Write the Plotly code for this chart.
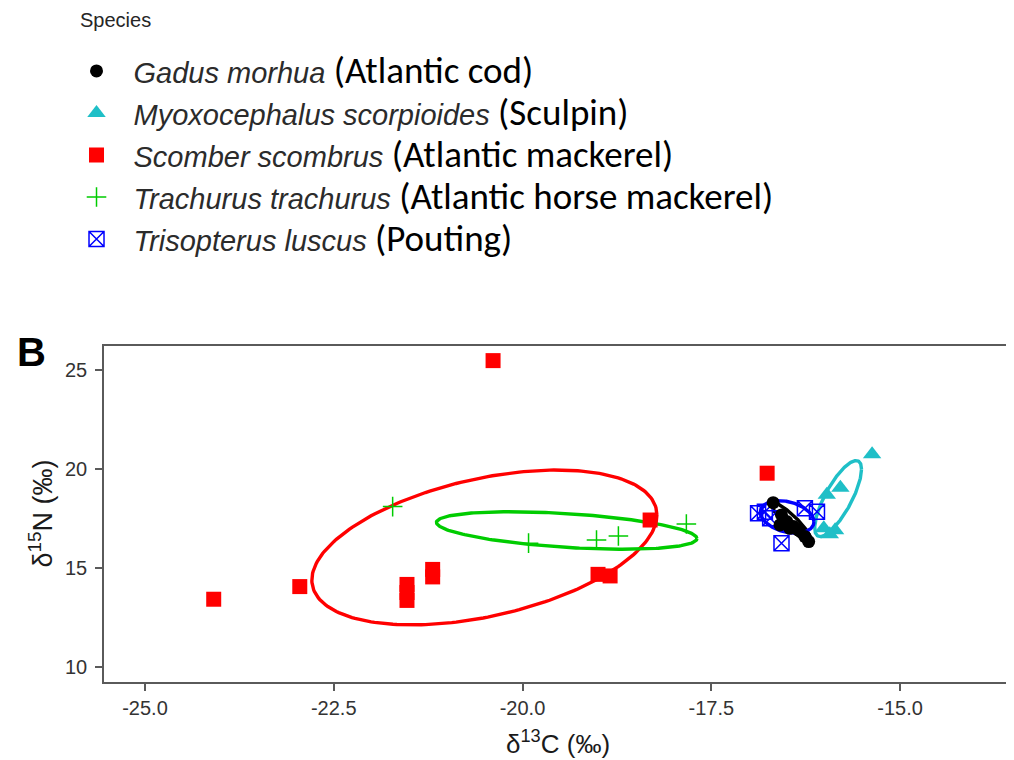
import numpy as np
import plotly.graph_objects as go

# ---------------- data ----------------
species = ["Gadus morhua", "Myoxocephalus scorpioides", "Scomber scombrus",
           "Trachurus trachurus", "Trisopterus luscus"]
common_names = ["(Atlantic cod)", "(Sculpin)", "(Atlantic mackerel)",
                "(Atlantic horse mackerel)", "(Pouting)"]

gadus_c13 = [-16.68, -16.57, -16.50, -16.59, -16.41, -16.35, -16.26, -16.21, -16.46]
gadus_n15 = [18.30, 17.68, 17.34, 17.17, 17.09, 16.92, 16.58, 16.33, 17.00]

myoxo_c13 = [-15.37, -15.79, -15.97, -15.86, -16.01, -15.93]
myoxo_n15 = [20.75, 19.05, 18.70, 16.90, 17.00, 16.70]

scomber_c13 = [-20.39, -16.76, -18.31, -24.09, -22.95, -21.53, -21.53, -21.53,
               -21.19, -21.19, -19.00, -18.84]
scomber_n15 = [25.49, 19.79, 17.42, 13.41, 14.05, 14.16, 13.75, 13.35,
               14.92, 14.54, 14.67, 14.59]

trachurus_c13 = [-21.72, -19.92, -19.02, -18.73, -17.83]
trachurus_n15 = [18.10, 16.25, 16.41, 16.61, 17.22]

trisopterus_c13 = [-16.88, -16.79, -16.72, -16.26, -16.10, -16.57]
trisopterus_n15 = [17.76, 17.84, 17.51, 18.02, 17.84, 16.24]

# standard ellipses: centre, half-range in x, half-range in y, cos(phase)
ell_cx = [-16.44, -15.82, -20.505, -19.415, -16.495]
ell_cy = [17.32, 18.505, 16.03, 16.89, 17.575]
ell_ax = [0.26, 0.31, 2.285, 1.725, 0.355]
ell_ay = [0.98, 1.925, 3.92, 0.95, 0.825]
ell_cos = [-0.9, 0.77, 0.42, -0.43, -0.3]

x_ticks = [-25.0, -22.5, -20.0, -17.5, -15.0]
x_tick_labels = ["-25.0", "-22.5", "-20.0", "-17.5", "-15.0"]
y_ticks = [10, 15, 20, 25]
y_tick_labels = ["10", "15", "20", "25"]

# ---------------- styling ----------------
colors = ["#000000", "#1FBFC7", "#FF0000", "#00CC00", "#0000FF"]
symbols = ["circle", "triangle-up", "square", "cross-thin-open", "square-x-open"]
sizes = [13, 16, 15, 14, 15]
line_w = [0, 0, 0, 1.5, 1.5]

xs = [gadus_c13, myoxo_c13, scomber_c13, trachurus_c13, trisopterus_c13]
ys = [gadus_n15, myoxo_n15, scomber_n15, trachurus_n15, trisopterus_n15]

fig = go.Figure()

# ellipses
t = np.linspace(0, 2 * np.pi, 240)
for i in range(5):
    phi = np.arccos(ell_cos[i])
    ex = ell_cx[i] + ell_ax[i] * np.cos(t)
    ey = ell_cy[i] + ell_ay[i] * np.cos(t - phi)
    fig.add_trace(go.Scatter(x=ex, y=ey, mode="lines",
                             line=dict(color=colors[i], width=3.4),
                             showlegend=False, hoverinfo="skip"))

# points (draw black last so it sits on top)
order = [4, 3, 2, 1, 0]
for i in order:
    name = ('<span style="font-family:\'Liberation Sans\', Arial; font-style:italic; '
            'font-size:29px; color:#2b2b2b">'
            + species[i] + '</span> '
            + '<span style="font-family:Carlito, Lato, sans-serif; font-size:37px; color:#000000">'
            + common_names[i] + '</span>')
    fig.add_trace(go.Scatter(
        x=xs[i], y=ys[i], mode="markers", name=name, legendrank=i + 1,
        marker=dict(symbol=symbols[i], size=sizes[i], color=colors[i],
                    line=dict(color=colors[i], width=line_w[i]))))

axis_common = dict(showline=True, mirror=True, linecolor="#5A5A5A", linewidth=1.6,
                   ticks="outside", ticklen=7, tickwidth=1.5, tickcolor="#5A5A5A",
                   showgrid=False, zeroline=False,
                   tickfont=dict(family="Liberation Sans, Arial", size=20, color="#333333"))

# the page body adds an 8px offset, so the figure is laid out 8px smaller / shifted
fig.update_layout(
    width=1006, height=752,
    margin=dict(l=96, r=2, t=338, b=78, autoexpand=False),
    paper_bgcolor="white", plot_bgcolor="white",
    xaxis=dict(range=[-25.543, -13.517], tickvals=x_ticks, ticktext=x_tick_labels, **axis_common),
    yaxis=dict(range=[9.22, 26.23], tickvals=y_ticks, ticktext=y_tick_labels,
               ticklabelstandoff=4, **axis_common),
    legend=dict(x=-0.049, y=1.896, xanchor="left", yanchor="top",
                itemwidth=64, bgcolor="rgba(0,0,0,0)",
                font=dict(family="Liberation Sans, Arial", size=30, color="#262626")),
    showlegend=True,
    annotations=[
        dict(text="Species", xref="paper", yref="paper", x=-0.0286, y=1.970,
             xanchor="left", yanchor="middle", showarrow=False,
             font=dict(family="Liberation Sans, Arial", size=20, color="#262626")),
        dict(text="<b>B</b>", xref="paper", yref="paper", x=-0.0798, y=0.982,
             xanchor="center", yanchor="middle", showarrow=False,
             font=dict(family="Liberation Sans, Arial", size=40, color="#000000")),
        dict(text="δ<sup>13</sup>C (‰)", xref="paper", yref="paper", x=0.5, y=-0.1795,
             xanchor="center", yanchor="middle", showarrow=False,
             font=dict(family="Liberation Sans, Arial", size=26, color="#1a1a1a")),
        dict(text="δ<sup>15</sup>N (‰)", xref="paper", yref="paper", x=-0.0699, y=0.5,
             xanchor="center", yanchor="middle", textangle=-90, showarrow=False,
             font=dict(family="Liberation Sans, Arial", size=27, color="#1a1a1a")),
    ],
)

fig.write_html("out.html")
